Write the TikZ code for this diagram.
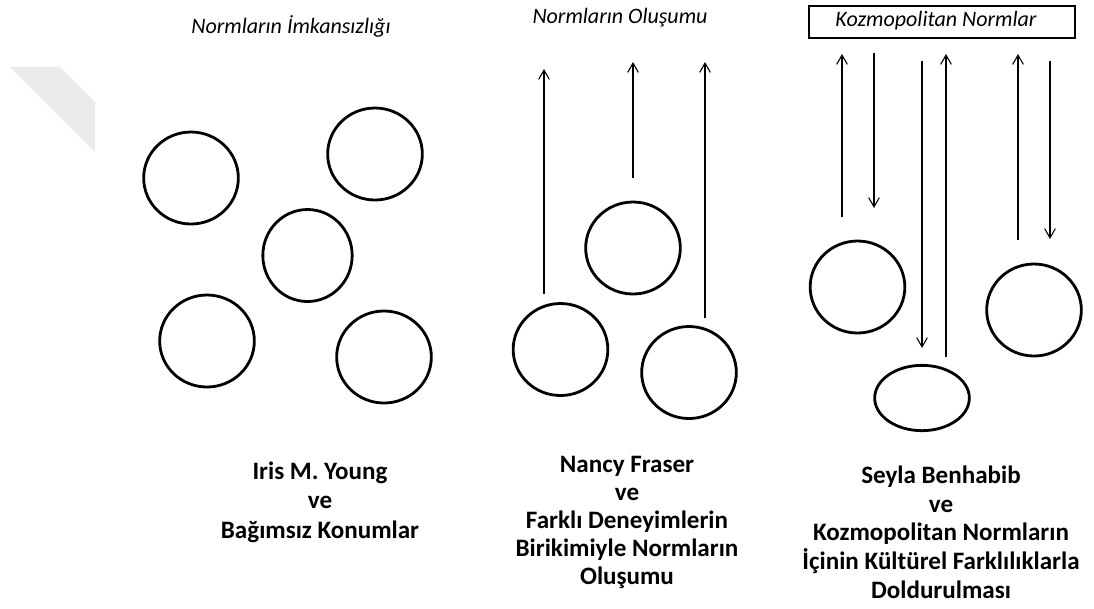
\documentclass[tikz,border=0pt]{standalone}
\usepackage{fontspec}
\setmainfont{Carlito}
\usetikzlibrary{shapes.geometric,arrows.meta}
\tikzset{
  ring/.style={ellipse, draw, line width=2.1pt, inner sep=0pt,
               minimum width=71pt, minimum height=69pt},
  flow/.style={line width=0.8pt, -{Straight Barb[length=7pt,width=8pt,line width=0.8pt]}},
  headline/.style={font=\itshape\fontsize{16.5}{18}\selectfont},
  caption/.style={align=center, font=\bfseries\fontsize{18.8}{21.5}\selectfont},
}
\begin{document}
\begin{tikzpicture}[x=0.75pt,y=-0.75pt]
\useasboundingbox (0,0) rectangle (1094,608);
% faint band in the upper left corner
\fill[black!8] (10,67) -- (60,67) -- (95,102) -- (95,152) -- cycle;

% ---- Iris M. Young: independent positions ----
\node[headline] (ytitle) at (291,26) {Normların İmkansızlığı};
\node[ring] (y1) at (191,178) {};
\node[ring] (y2) at (375,154) {};
\node[ring, minimum width=67pt] (y3) at (307.5,255.5) {};
\node[ring] (y4) at (207,341) {};
\node[ring] (y5) at (384,357) {};
\node[caption, font=\bfseries\fontsize{18.8}{22}\selectfont] (ytext) at (320,502)
  {Iris M. Young\\ve\\Bağımsız Konumlar};

% ---- Nancy Fraser: norms formed from experiences ----
\node[headline] (ftitle) at (620,18) {Normların Oluşumu};
\node[ring] (f1) at (633,248) {};
\node[ring] (f2) at (560.5,349.5) {};
\node[ring] (f3) at (689,372.5) {};
\coordinate (fa1s) at (544,294); \coordinate (fa1e) at (544,69);
\coordinate (fa2s) at (633,178); \coordinate (fa2e) at (633,62);
\coordinate (fa3s) at (705,318); \coordinate (fa3e) at (705,62);
\draw[flow] (fa1s) -- (fa1e);
\draw[flow] (fa2s) -- (fa2e);
\draw[flow] (fa3s) -- (fa3e);
\node[caption, font=\bfseries\fontsize{18.8}{21}\selectfont] (ftext) at (627,522)
  {Nancy Fraser\\ve\\Farklı Deneyimlerin\\Birikimiyle Normların\\Oluşumu};

% ---- Seyla Benhabib: cosmopolitan norms ----
\node[draw, line width=2pt, minimum width=199.5pt, minimum height=24pt, inner sep=0pt]
  (kbox) at (942,22) {};
\node[headline] (ktitle) at (936,21) {Kozmopolitan Normlar};
\node[ring] (k1) at (857.5,287) {};
\node[ring] (k2) at (1034,310) {};
\node[ring, minimum height=49pt] (k3) at (922,398) {};
\coordinate (ka1s) at (842,217);  \coordinate (ka1e) at (842,54);
\coordinate (ka2s) at (874,53);   \coordinate (ka2e) at (874,208);
\coordinate (ka3s) at (922,61);   \coordinate (ka3e) at (922,348);
\coordinate (ka4s) at (946,357);  \coordinate (ka4e) at (946,54);
\coordinate (ka5s) at (1018,240); \coordinate (ka5e) at (1018,54);
\coordinate (ka6s) at (1050,61);  \coordinate (ka6e) at (1050,239);
\draw[flow] (ka1s) -- (ka1e);
\draw[flow] (ka2s) -- (ka2e);
\draw[flow] (ka3s) -- (ka3e);
\draw[flow] (ka4s) -- (ka4e);
\draw[flow] (ka5s) -- (ka5e);
\draw[flow] (ka6s) -- (ka6e);
\node[caption] (ktext) at (941,532)
  {Seyla Benhabib\\ve\\Kozmopolitan Normların\\İçinin Kültürel Farklılıklarla\\Doldurulması};
\end{tikzpicture}
\end{document}
